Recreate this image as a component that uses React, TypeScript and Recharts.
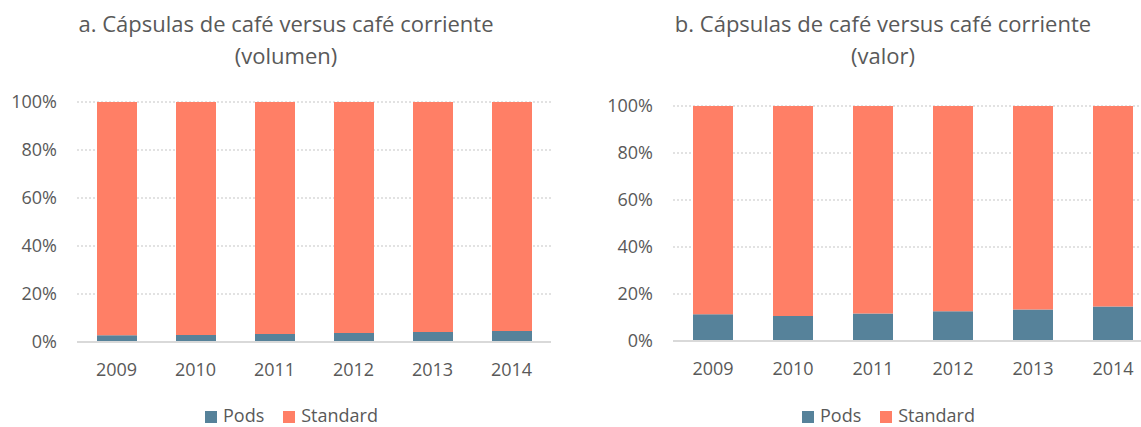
import { BarChart, Bar, XAxis, YAxis, CartesianGrid } from "recharts";

const years = ["2009", "2010", "2011", "2012", "2013", "2014"];

// a. volumen (% share)
const podsVolume = [2.8, 2.9, 3.3, 3.8, 4.2, 4.6];
const standardVolume = [97.2, 97.1, 96.7, 96.2, 95.8, 95.4];

// b. valor (% share)
const podsValue = [11.4, 10.6, 11.7, 12.7, 13.4, 14.7];
const standardValue = [88.6, 89.4, 88.3, 87.3, 86.6, 85.3];

const yTicks = [0, 20, 40, 60, 80, 100];

const series = [
    { key: "pods", name: "Pods", color: "#56829A" },
    { key: "standard", name: "Standard", color: "#FF7F66" },
];

const FONT = "'Open Sans', sans-serif";
const TEXT = "#595959";

const buildRows = (pods: number[], standard: number[]) =>
    years.map((year, i) => ({ year, pods: pods[i], standard: standard[i] }));

const Title = ({ lines, center }: { lines: string[]; center: number }) => (
    <div
        style={{
            position: "absolute",
            top: 7,
            left: center - 300,
            width: 600,
            textAlign: "center",
            fontFamily: FONT,
            fontSize: 22,
            lineHeight: "32px",
            color: TEXT,
        }}
    >
        {lines.map((l) => (
            <div key={l}>{l}</div>
        ))}
    </div>
);

const LegendBox = ({ left }: { left: number }) => (
    <div
        style={{
            position: "absolute",
            top: 404,
            left,
            display: "flex",
            fontFamily: FONT,
            fontSize: 18,
            lineHeight: "22px",
            color: TEXT,
        }}
    >
        {series.map((s) => (
            <div key={s.key} style={{ display: "flex", alignItems: "flex-start", marginRight: 19 }}>
                <span
                    style={{
                        display: "inline-block",
                        width: 12,
                        height: 12,
                        marginTop: 7,
                        marginRight: 6,
                        background: s.color,
                    }}
                />
                <span>{s.name}</span>
            </div>
        ))}
    </div>
);

const StackChart = ({
    data,
    width,
    top,
    bottom,
    right,
    yWidth,
}: {
    data: any[];
    width: number;
    top: number;
    bottom: number;
    right: number;
    yWidth: number;
}) => (
    <BarChart
        width={width}
        height={427}
        data={data}
        margin={{ top, right, left: 0, bottom }}
        barSize={40}
    >
        <CartesianGrid vertical={false} stroke="#d9d9d9" strokeDasharray="2 2" strokeWidth={1.5} />
        <XAxis
            dataKey="year"
            axisLine={{ stroke: "#d9d9d9", strokeWidth: 2 }}
            tickLine={false}
            tickSize={0}
            tickMargin={21}
            height={40}
            tick={{ fill: TEXT, fontSize: 18, fontFamily: FONT }}
            interval={0}
        />
        <YAxis
            domain={[0, 100]}
            ticks={yTicks}
            width={yWidth}
            axisLine={false}
            tickLine={false}
            tickSize={0}
            tickMargin={20}
            tickFormatter={(v: number) => `${v}%`}
            tick={{ fill: TEXT, fontSize: 18, fontFamily: FONT }}
        />
        {series.map((s) => (
            <Bar
                key={s.key}
                dataKey={s.key}
                name={s.name}
                stackId="a"
                fill={s.color}
                isAnimationActive={false}
            />
        ))}
    </BarChart>
);

export default function App() {
    return (
        <div
            style={{
                position: "absolute",
                top: 0,
                left: 0,
                width: 1141,
                height: 427,
                overflow: "hidden",
                background: "#fff",
            }}
        >
            <div style={{ position: "absolute", top: 0, left: 0 }}>
                <StackChart
                    data={buildRows(podsVolume, standardVolume)}
                    width={570}
                    top={102}
                    bottom={45}
                    right={19}
                    yWidth={77}
                />
            </div>
            <div style={{ position: "absolute", top: 0, left: 600 }}>
                <StackChart
                    data={buildRows(podsValue, standardValue)}
                    width={553}
                    top={106}
                    bottom={46}
                    right={0}
                    yWidth={73}
                />
            </div>
            <Title lines={["a. Cápsulas de café versus café corriente", "(volumen)"]} center={286} />
            <Title lines={["b. Cápsulas de café versus café corriente", "(valor)"]} center={883} />
            <LegendBox left={205} />
            <LegendBox left={802} />
        </div>
    );
}
